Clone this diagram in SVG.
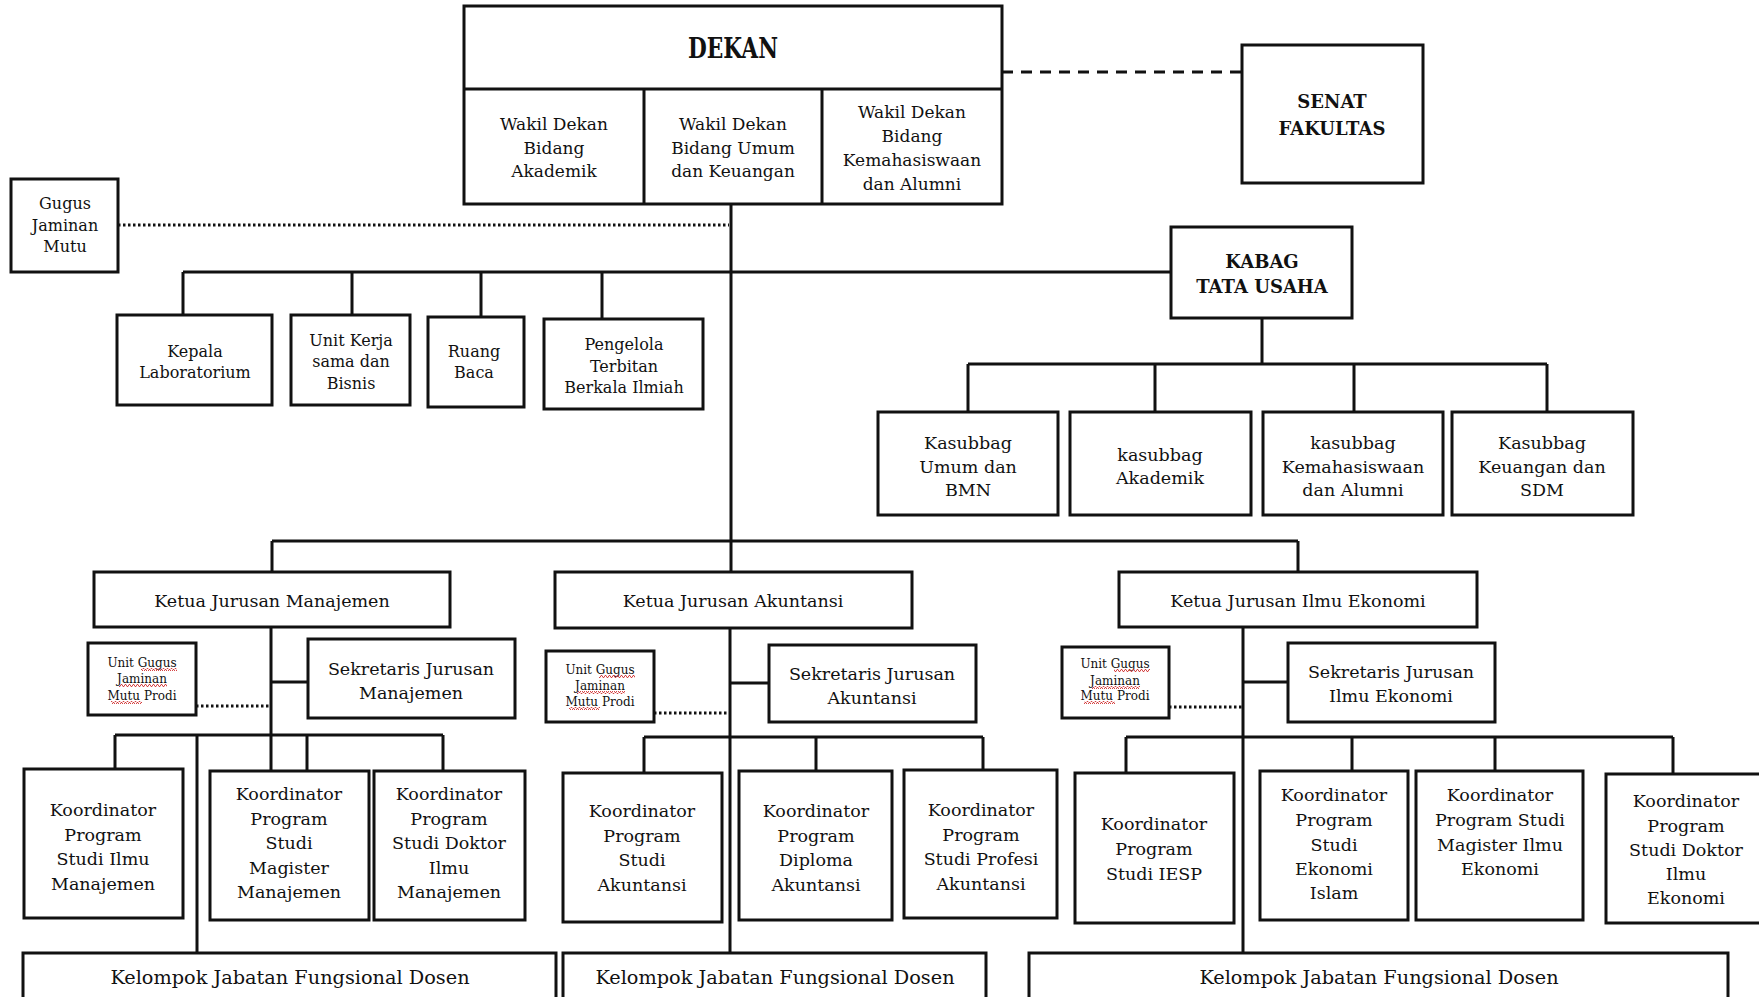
<svg xmlns="http://www.w3.org/2000/svg" width="1759" height="997" viewBox="0 0 1759 997">
<style>
.b{fill:#fff;stroke:#111;stroke-width:3}
.t{font-family:"DejaVu Serif","Liberation Serif",serif;font-size:17px;fill:#111;text-anchor:middle}
.s{font-size:16px}
.xs{font-size:12px}
.k{font-size:17.5px}
.kl{font-size:19.3px}
.bd{font-weight:bold;font-size:18px}
.dk{font-weight:bold;font-size:28px}
.c{fill:none;stroke:#111;stroke-width:3}
.dot{fill:none;stroke:#111;stroke-width:3;stroke-dasharray:2.5 2.5}
.dash{fill:none;stroke:#111;stroke-width:3;stroke-dasharray:11 8}
.w{fill:url(#wavy)}
</style>
<defs>
<pattern id="wavy" patternUnits="userSpaceOnUse" width="4" height="3">
<path d="M0 2.5 L1 0.5 L2 0.5 L3 2.5 L4 2.5" fill="none" stroke="#d03030" stroke-width="0.9"/>
</pattern>
</defs>
<rect width="1759" height="997" fill="#fff"/>

<g id="connectors">
<path class="c" d="M731 204 V572 M730 628 V953"/>
<path class="dot" d="M118 225 H729"/>
<path class="dash" d="M1002 72 H1242"/>
<path class="c" d="M183 272 H1171 M183 272 V315 M352 272 V315 M481 272 V317 M602 272 V319"/>
<path class="c" d="M1262 318 V364 M968 364 H1547 M968 364 V412 M1155 364 V412 M1354 364 V412 M1547 364 V412"/>
<path class="c" d="M272 541 H1298 M272 541 V572 M1298 541 V572"/>
<path class="c" d="M271 627 V771 M271 682 H308 M115 735 H443 M115 735 V769 M197 735 V953 M307 735 V771 M443 735 V771"/>
<path class="dot" d="M196 706 H271"/>
<path class="c" d="M730 683 H769 M644 737 H983 M644 737 V773 M816 737 V771 M983 737 V770"/>
<path class="dot" d="M654 713 H730"/>
<path class="c" d="M1243 627 V953 M1243 682 H1288 M1126 737 H1673 M1126 737 V773 M1352 737 V771 M1495 737 V771 M1673 737 V774"/>
<path class="dot" d="M1169 707 H1243"/>
</g>

<g id="dekan">
<rect class="b" x="464" y="6" width="538" height="198"/>
<path class="c" d="M464 89 H1002 M644 89 V204 M822 89 V204"/>
<text class="t dk" x="733" y="58" textLength="90" lengthAdjust="spacingAndGlyphs">DEKAN</text>
</g>
<g id="wd-akademik">
<text class="t" x="554" y="130">Wakil Dekan</text>
<text class="t" x="554" y="154">Bidang</text>
<text class="t" x="554" y="177">Akademik</text>
</g>
<g id="wd-umum">
<text class="t" x="733" y="130">Wakil Dekan</text>
<text class="t" x="733" y="154">Bidang Umum</text>
<text class="t" x="733" y="177">dan Keuangan</text>
</g>
<g id="wd-kemahasiswaan">
<text class="t" x="912" y="118">Wakil Dekan</text>
<text class="t" x="912" y="142">Bidang</text>
<text class="t" x="912" y="166">Kemahasiswaan</text>
<text class="t" x="912" y="190">dan Alumni</text>
</g>

<g id="senat">
<rect class="b" x="1242" y="45" width="181" height="138"/>
<text class="t bd" x="1332" y="108">SENAT</text>
<text class="t bd" x="1332" y="135">FAKULTAS</text>
</g>

<g id="kabag">
<rect class="b" x="1171" y="227" width="181" height="91"/>
<text class="t bd" x="1262" y="268">KABAG</text>
<text class="t bd" x="1262" y="293">TATA USAHA</text>
</g>

<g id="gugus">
<rect class="b" x="11" y="179" width="107" height="93"/>
<text class="t s" x="65" y="209">Gugus</text>
<text class="t s" x="65" y="231">Jaminan</text>
<text class="t s" x="65" y="252">Mutu</text>
</g>

<g id="kepala-lab">
<rect class="b" x="117" y="315" width="155" height="90"/>
<text class="t s" x="195" y="357">Kepala</text>
<text class="t s" x="195" y="378">Laboratorium</text>
</g>
<g id="unit-kerja">
<rect class="b" x="291" y="315" width="119" height="90"/>
<text class="t s" x="351" y="346">Unit Kerja</text>
<text class="t s" x="351" y="367">sama dan</text>
<text class="t s" x="351" y="389">Bisnis</text>
</g>
<g id="ruang-baca">
<rect class="b" x="428" y="317" width="96" height="90"/>
<text class="t s" x="474" y="357">Ruang</text>
<text class="t s" x="474" y="378">Baca</text>
</g>
<g id="pengelola">
<rect class="b" x="544" y="319" width="159" height="90"/>
<text class="t s" x="624" y="350">Pengelola</text>
<text class="t s" x="624" y="372">Terbitan</text>
<text class="t s" x="624" y="393">Berkala Ilmiah</text>
</g>

<g id="kasubbag-umum">
<rect class="b" x="878" y="412" width="180" height="103"/>
<text class="t k" x="968" y="449">Kasubbag</text>
<text class="t k" x="968" y="473">Umum dan</text>
<text class="t k" x="968" y="496">BMN</text>
</g>
<g id="kasubbag-akademik">
<rect class="b" x="1070" y="412" width="181" height="103"/>
<text class="t k" x="1160" y="461">kasubbag</text>
<text class="t k" x="1160" y="484">Akademik</text>
</g>
<g id="kasubbag-kemahasiswaan">
<rect class="b" x="1263" y="412" width="180" height="103"/>
<text class="t k" x="1353" y="449">kasubbag</text>
<text class="t k" x="1353" y="473">Kemahasiswaan</text>
<text class="t k" x="1353" y="496">dan Alumni</text>
</g>
<g id="kasubbag-keuangan">
<rect class="b" x="1452" y="412" width="181" height="103"/>
<text class="t k" x="1542" y="449">Kasubbag</text>
<text class="t k" x="1542" y="473">Keuangan dan</text>
<text class="t k" x="1542" y="496">SDM</text>
</g>

<g id="ketua-manajemen">
<rect class="b" x="94" y="572" width="356" height="55"/>
<text class="t k" x="272" y="607">Ketua Jurusan Manajemen</text>
</g>
<g id="ketua-akuntansi">
<rect class="b" x="555" y="572" width="357" height="56"/>
<text class="t k" x="733" y="607">Ketua Jurusan Akuntansi</text>
</g>
<g id="ketua-ie">
<rect class="b" x="1119" y="572" width="358" height="55"/>
<text class="t k" x="1298" y="607">Ketua Jurusan Ilmu Ekonomi</text>
</g>

<g id="sek-manajemen">
<rect class="b" x="308" y="639" width="207" height="79"/>
<text class="t k" x="411" y="675">Sekretaris Jurusan</text>
<text class="t k" x="411" y="699">Manajemen</text>
</g>
<g id="sek-akuntansi">
<rect class="b" x="769" y="645" width="207" height="77"/>
<text class="t k" x="872" y="680">Sekretaris Jurusan</text>
<text class="t k" x="872" y="704">Akuntansi</text>
</g>
<g id="sek-ie">
<rect class="b" x="1288" y="643" width="207" height="79"/>
<text class="t k" x="1391" y="678">Sekretaris Jurusan</text>
<text class="t k" x="1391" y="702">Ilmu Ekonomi</text>
</g>

<g id="ugjm-manajemen">
<rect class="b" x="88" y="643" width="108" height="72"/>
<text class="t xs" x="142" y="667">Unit Gugus</text>
<text class="t xs" x="142" y="683">Jaminan</text>
<text class="t xs" x="142" y="700">Mutu Prodi</text>
<rect class="w" x="141" y="668" width="36" height="3"/>
<rect class="w" x="119" y="684" width="48" height="3"/>
<rect class="w" x="111" y="701" width="31" height="3"/>
</g>
<g id="ugjm-akuntansi">
<rect class="b" x="546" y="651" width="108" height="71"/>
<text class="t xs" x="600" y="674">Unit Gugus</text>
<text class="t xs" x="600" y="690">Jaminan</text>
<text class="t xs" x="600" y="706">Mutu Prodi</text>
<rect class="w" x="599" y="675" width="36" height="3"/>
<rect class="w" x="577" y="691" width="48" height="3"/>
<rect class="w" x="569" y="707" width="31" height="3"/>
</g>
<g id="ugjm-ie">
<rect class="b" x="1062" y="647" width="107" height="71"/>
<text class="t xs" x="1115" y="668">Unit Gugus</text>
<text class="t xs" x="1115" y="685">Jaminan</text>
<text class="t xs" x="1115" y="700">Mutu Prodi</text>
<rect class="w" x="1114" y="669" width="36" height="3"/>
<rect class="w" x="1092" y="686" width="48" height="3"/>
<rect class="w" x="1084" y="701" width="31" height="3"/>
</g>

<g id="kps-ilmu-manajemen">
<rect class="b" x="24" y="769" width="159" height="149"/>
<text class="t k" x="103" y="816">Koordinator</text>
<text class="t k" x="103" y="841">Program</text>
<text class="t k" x="103" y="865">Studi Ilmu</text>
<text class="t k" x="103" y="890">Manajemen</text>
</g>
<g id="kps-magister-manajemen">
<rect class="b" x="210" y="771" width="159" height="149"/>
<text class="t k" x="289" y="800">Koordinator</text>
<text class="t k" x="289" y="825">Program</text>
<text class="t k" x="289" y="849">Studi</text>
<text class="t k" x="289" y="874">Magister</text>
<text class="t k" x="289" y="898">Manajemen</text>
</g>
<g id="kps-doktor-manajemen">
<rect class="b" x="374" y="771" width="151" height="149"/>
<text class="t k" x="449" y="800">Koordinator</text>
<text class="t k" x="449" y="825">Program</text>
<text class="t k" x="449" y="849">Studi Doktor</text>
<text class="t k" x="449" y="874">Ilmu</text>
<text class="t k" x="449" y="898">Manajemen</text>
</g>
<g id="kps-akuntansi">
<rect class="b" x="563" y="773" width="159" height="149"/>
<text class="t k" x="642" y="817">Koordinator</text>
<text class="t k" x="642" y="842">Program</text>
<text class="t k" x="642" y="866">Studi</text>
<text class="t k" x="642" y="891">Akuntansi</text>
</g>
<g id="kp-diploma-akuntansi">
<rect class="b" x="739" y="771" width="153" height="149"/>
<text class="t k" x="816" y="817">Koordinator</text>
<text class="t k" x="816" y="842">Program</text>
<text class="t k" x="816" y="866">Diploma</text>
<text class="t k" x="816" y="891">Akuntansi</text>
</g>
<g id="kps-profesi-akuntansi">
<rect class="b" x="904" y="770" width="153" height="148"/>
<text class="t k" x="981" y="816">Koordinator</text>
<text class="t k" x="981" y="841">Program</text>
<text class="t k" x="981" y="865">Studi Profesi</text>
<text class="t k" x="981" y="890">Akuntansi</text>
</g>
<g id="kps-iesp">
<rect class="b" x="1075" y="773" width="159" height="150"/>
<text class="t k" x="1154" y="830">Koordinator</text>
<text class="t k" x="1154" y="855">Program</text>
<text class="t k" x="1154" y="880">Studi IESP</text>
</g>
<g id="kps-ekonomi-islam">
<rect class="b" x="1260" y="771" width="148" height="149"/>
<text class="t k" x="1334" y="801">Koordinator</text>
<text class="t k" x="1334" y="826">Program</text>
<text class="t k" x="1334" y="851">Studi</text>
<text class="t k" x="1334" y="875">Ekonomi</text>
<text class="t k" x="1334" y="899">Islam</text>
</g>
<g id="kps-magister-ie">
<rect class="b" x="1416" y="771" width="167" height="149"/>
<text class="t k" x="1500" y="801">Koordinator</text>
<text class="t k" x="1500" y="826">Program Studi</text>
<text class="t k" x="1500" y="851">Magister Ilmu</text>
<text class="t k" x="1500" y="875">Ekonomi</text>
</g>
<g id="kps-doktor-ie">
<rect class="b" x="1606" y="774" width="160" height="149"/>
<text class="t k" x="1686" y="807">Koordinator</text>
<text class="t k" x="1686" y="832">Program</text>
<text class="t k" x="1686" y="856">Studi Doktor</text>
<text class="t k" x="1686" y="880">Ilmu</text>
<text class="t k" x="1686" y="904">Ekonomi</text>
</g>

<g id="kjfd-manajemen">
<rect class="b" x="23" y="953" width="533" height="60"/>
<text class="t kl" x="290" y="984">Kelompok Jabatan Fungsional Dosen</text>
</g>
<g id="kjfd-akuntansi">
<rect class="b" x="563" y="953" width="423" height="60"/>
<text class="t kl" x="775" y="984">Kelompok Jabatan Fungsional Dosen</text>
</g>
<g id="kjfd-ie">
<rect class="b" x="1029" y="953" width="699" height="60"/>
<text class="t kl" x="1379" y="984">Kelompok Jabatan Fungsional Dosen</text>
</g>
</svg>
